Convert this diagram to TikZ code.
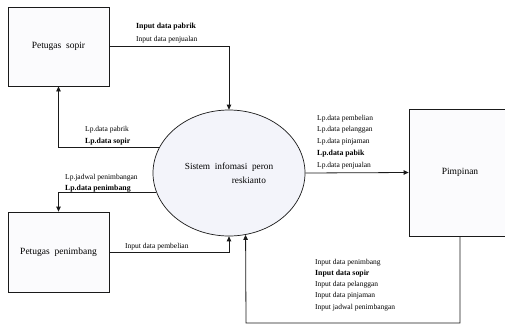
\documentclass[tikz,border=0pt]{standalone}
\usepackage{fontspec}
\setmainfont{Liberation Serif}
\usetikzlibrary{shapes.geometric,arrows.meta}
\definecolor{linecol}{HTML}{1A1A1A}
\definecolor{ellfill}{HTML}{F3F4FA}
\definecolor{boxfill}{HTML}{FBFBFD}
\tikzset{
  entity/.style={draw=linecol, line width=0.8pt, fill=boxfill, inner sep=0pt,
    font=\fontsize{9.5}{11}\selectfont},
  process/.style={ellipse, draw=linecol, line width=0.7pt, fill=ellfill, inner sep=0pt,
    minimum width=152pt, minimum height=126pt, font=\fontsize{9.3}{14}\selectfont},
  flow/.style={draw=linecol, line width=0.8pt, -{Triangle[length=5pt,width=4.5pt]}},
  lbl/.style={anchor=base west, inner sep=0pt, font=\fontsize{7.5}{9}\selectfont},
  lblb/.style={anchor=base west, inner sep=0pt, font=\fontsize{7.8}{9}\selectfont\bfseries}
}
\begin{document}
\begin{tikzpicture}[x=1pt,y=-1pt]
\useasboundingbox (0,0) rectangle (505,324);
% entities
\node[entity, minimum width=101pt, minimum height=79pt] (sopir) at (58.5,46.5) {Petugas~~sopir};
\node[entity, minimum width=101pt, minimum height=80pt] (pen) at (58.5,252) {Petugas~~penimbang};
\node[entity, minimum width=102pt, minimum height=127pt] (pim) at (460,172.5) {Pimpinan};
\node[process, align=left] (sys) at (229,173) {Sistem~~infomasi~~peron\\\hspace*{47pt}reskianto};
% connectors
\draw[flow] (sopir.east) -| (sys.north);
\draw[flow] (sys.160.3) -| (sopir.south);
\draw[flow] (sys.195.5) -| (pen.north);
\draw[flow] (pen.east) -| (sys.south);
\draw[flow] (sys.east) -- (pim.west);
\coordinate (bl) at (246,323);
\draw[flow] (pim.south) |- (bl) -- (sys.285.5);
% labels
\node[lblb] (l1a) at (136,28) {Input data pabrik};
\node[lbl] (l1b) at (136,41) {Input data  penjualan};
\node[lbl] (l2a) at (85,131) {Lp.data  pabrik};
\node[lblb] (l2b) at (85,143) {Lp.data sopir};
\node[lbl] (l3a) at (65,179) {Lp.jadwal  penimbangan};
\node[lblb] (l3b) at (65,190.5) {Lp.data penimbang};
\node[lbl] (l4) at (125,248.5) {Input data  pembelian};
\node[lbl] (l5a) at (317,120) {Lp.data  pembelian};
\node[lbl] (l5b) at (317,131.5) {Lp.data  pelanggan};
\node[lbl] (l5c) at (317,143.5) {Lp.data  pinjaman};
\node[lblb] (l5d) at (317,155) {Lp.data pabik};
\node[lbl] (l5e) at (317,167) {Lp.data  penjualan};
\node[lbl] (l6a) at (315,264) {Input data  penimbang};
\node[lblb] (l6b) at (315,275) {Input data sopir};
\node[lbl] (l6c) at (315,286) {Input data  pelanggan};
\node[lbl] (l6d) at (315,297.5) {Input data  pinjaman};
\node[lbl] (l6e) at (315,309) {Input jadwal  penimbangan};
\end{tikzpicture}
\end{document}
